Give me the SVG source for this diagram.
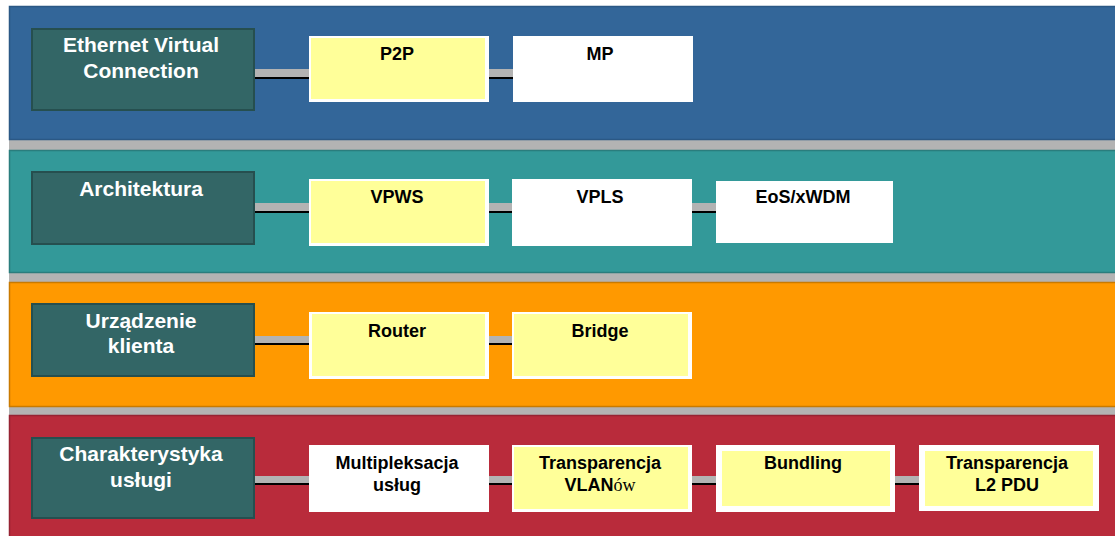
<svg xmlns="http://www.w3.org/2000/svg" width="1115" height="536" viewBox="0 0 1115 536">
<style>
.band{stroke-width:1.5}
.cat rect{fill:#336666;stroke:#264f4f;stroke-width:2}
.cat text{fill:#ffffff;font-family:"Liberation Sans",Arial,sans-serif;font-weight:bold;font-size:21px;text-anchor:middle}
.item text{fill:#000000;font-family:"Liberation Sans",Arial,sans-serif;font-weight:bold;font-size:18px;text-anchor:middle}
.w{fill:#ffffff}
.y{fill:#ffff99}
.cg{fill:#b3b3b3}
.cb{fill:#000000}
</style>
<rect width="1115" height="536" fill="#ffffff"/>
<rect x="9" y="6" width="1106" height="530" fill="#b3b3b3"/>
<g id="bands">
<rect class="band" x="9.5" y="6.5" width="1110" height="133" fill="#336699" stroke="#2b5885"/>
<rect class="band" x="9.5" y="150.5" width="1110" height="122" fill="#339999" stroke="#2a7d7d"/>
<rect class="band" x="9.5" y="282.5" width="1110" height="124" fill="#ff9900" stroke="#c97a00"/>
<rect class="band" x="9.5" y="415.5" width="1110" height="130" fill="#b92b3b" stroke="#962333"/>
</g>
<g id="connectors">
<rect class="cg" x="255" y="69" width="54" height="8"/><rect class="cb" x="255" y="77" width="54" height="2"/>
<rect class="cg" x="489" y="69" width="24" height="8"/><rect class="cb" x="489" y="77" width="24" height="2"/>
<rect class="cg" x="255" y="203" width="54" height="8"/><rect class="cb" x="255" y="211" width="54" height="2"/>
<rect class="cg" x="489" y="203" width="24" height="8"/><rect class="cb" x="489" y="211" width="24" height="2"/>
<rect class="cg" x="692" y="203" width="24" height="8"/><rect class="cb" x="692" y="211" width="24" height="2"/>
<rect class="cg" x="255" y="336" width="54" height="7"/><rect class="cb" x="255" y="343" width="54" height="2"/>
<rect class="cg" x="489" y="336" width="24" height="7"/><rect class="cb" x="489" y="343" width="24" height="2"/>
<rect class="cg" x="255" y="476" width="54" height="7"/><rect class="cb" x="255" y="483" width="54" height="2"/>
<rect class="cg" x="489" y="476" width="24" height="7"/><rect class="cb" x="489" y="483" width="24" height="2"/>
<rect class="cg" x="692" y="476" width="24" height="7"/><rect class="cb" x="692" y="483" width="24" height="2"/>
<rect class="cg" x="895" y="476" width="24" height="7"/><rect class="cb" x="895" y="483" width="24" height="2"/>
</g>
<g id="evc" class="cat"><rect x="32" y="29" width="222" height="81"/><text x="141" y="52">Ethernet Virtual</text><text x="141" y="78">Connection</text></g>
<g id="architektura" class="cat"><rect x="32" y="172" width="222" height="72"/><text x="141" y="196">Architektura</text></g>
<g id="urzadzenie" class="cat"><rect x="32" y="304" width="222" height="72"/><text x="141" y="328">Urządzenie</text><text x="141" y="353">klienta</text></g>
<g id="charakterystyka" class="cat"><rect x="32" y="438" width="222" height="80"/><text x="141" y="461">Charakterystyka</text><text x="141" y="487">usługi</text></g>
<g id="p2p" class="item"><rect class="w" x="309" y="36" width="180" height="66"/><rect class="y" x="311" y="38" width="174" height="61"/><text x="397" y="60">P2P</text></g>
<g id="mp" class="item"><rect class="w" x="513" y="36" width="180" height="66"/><text x="600" y="60">MP</text></g>
<g id="vpws" class="item"><rect class="w" x="309" y="179" width="180" height="67"/><rect class="y" x="311" y="181" width="174" height="62"/><text x="397" y="203">VPWS</text></g>
<g id="vpls" class="item"><rect class="w" x="512" y="179" width="180" height="67"/><text x="600" y="203">VPLS</text></g>
<g id="eos" class="item"><rect class="w" x="716" y="181" width="177" height="62"/><text x="803" y="203">EoS/xWDM</text></g>
<g id="router" class="item"><rect class="w" x="309" y="312" width="180" height="67"/><rect class="y" x="312" y="314" width="173" height="62"/><text x="397" y="337">Router</text></g>
<g id="bridge" class="item"><rect class="w" x="512" y="312" width="180" height="67"/><rect class="y" x="514" y="314" width="174" height="62"/><text x="600" y="337">Bridge</text></g>
<g id="multipleksacja" class="item"><rect class="w" x="309" y="445" width="180" height="67"/><text x="397" y="469">Multipleksacja</text><text x="397" y="491">usług</text></g>
<g id="vlan" class="item"><rect class="w" x="512" y="445" width="180" height="67"/><rect class="y" x="514" y="447" width="174" height="62"/><text x="600" y="469">Transparencja</text><text x="600" y="491">VLAN<tspan font-family="'Liberation Serif',serif" font-weight="normal">ów</tspan></text></g>
<g id="bundling" class="item"><rect class="w" x="716" y="445" width="179" height="67"/><rect class="y" x="722" y="451" width="168" height="55"/><text x="803" y="469">Bundling</text></g>
<g id="l2pdu" class="item"><rect class="w" x="919" y="445" width="180" height="66"/><rect class="y" x="925" y="451" width="168" height="55"/><text x="1007" y="469">Transparencja</text><text x="1007" y="491">L2 PDU</text></g>
</svg>
